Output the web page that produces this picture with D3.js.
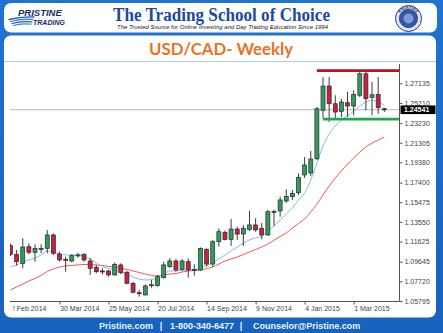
<!DOCTYPE html>
<html>
<head>
<meta charset="utf-8">
<script src="https://cdn.jsdelivr.net/npm/d3@7"></script>
<style>
  html, body { margin: 0; padding: 0; background: #1a6cc6; }
  svg { display: block; }
</style>
</head>
<body>
<svg id="chart" width="443" height="333"></svg>
<script>
// ---- Weekly USD/CAD bars, first week starting 2 Feb 2014 ----
const weekStart = "2014-02-02";

const opens = [
  1.1122, 1.1037, 1.0949, 1.1112, 1.1057, 1.1086, 1.1096, 1.1227, 1.1040, 1.0988,
  1.0972, 1.1024, 1.1037, 1.0972, 1.0910, 1.0874, 1.0874, 1.0835, 1.0933, 1.0861,
  1.0753, 1.0661, 1.0639, 1.0730, 1.0730, 1.0808, 1.0916, 1.0972, 1.0890, 1.0965,
  1.0881, 1.0884, 1.1086, 1.0942, 1.1161, 1.1253, 1.1184, 1.1285, 1.1236, 1.1282,
  1.1325, 1.1292, 1.1227, 1.1449, 1.1462, 1.1560, 1.1602, 1.1641, 1.1815, 1.1834,
  1.1974, 1.2449, 1.2687, 1.2513, 1.2439, 1.2523, 1.2491, 1.2596, 1.2807, 1.2576,
  1.2605, 1.2464
];
const highs = [
  1.1138, 1.1080, 1.1194, 1.1145, 1.1135, 1.1135, 1.1276, 1.1243, 1.1063, 1.1014,
  1.1037, 1.1050, 1.1047, 1.0998, 1.0933, 1.0900, 1.0884, 1.0955, 1.0949, 1.0874,
  1.0769, 1.0688, 1.0743, 1.0786, 1.0835, 1.0965, 1.0998, 1.0991, 1.0991, 1.0998,
  1.0939, 1.1104, 1.1096, 1.1178, 1.1292, 1.1269, 1.1383, 1.1308, 1.1325, 1.1465,
  1.1390, 1.1344, 1.1471, 1.1476, 1.1602, 1.1674, 1.1668, 1.1831, 1.1991, 1.2050,
  1.2481, 1.2775, 1.2775, 1.2596, 1.2562, 1.2628, 1.2645, 1.2824, 1.2824, 1.2726,
  1.2775, 1.2474
];
const lows = [
  1.1021, 1.0926, 1.0900, 1.1037, 1.0965, 1.1047, 1.1047, 1.1031, 1.0965, 1.0867,
  1.0959, 1.1004, 1.0965, 1.0835, 1.0851, 1.0841, 1.0818, 1.0828, 1.0841, 1.0743,
  1.0655, 1.0622, 1.0632, 1.0710, 1.0720, 1.0802, 1.0906, 1.0867, 1.0874, 1.0808,
  1.0828, 1.0874, 1.0916, 1.0913, 1.1112, 1.1173, 1.1119, 1.1178, 1.1119, 1.1266,
  1.1259, 1.1184, 1.1217, 1.1315, 1.1406, 1.1540, 1.1570, 1.1619, 1.1785, 1.1805,
  1.1962, 1.2366, 1.2334, 1.2366, 1.2383, 1.2383, 1.2400, 1.2579, 1.2449, 1.2400,
  1.2415, 1.2432
];
const closes = [
  1.1037, 1.0965, 1.1109, 1.1057, 1.1096, 1.1094, 1.1227, 1.1047, 1.0982, 1.0982,
  1.1024, 1.1031, 1.0982, 1.0900, 1.0867, 1.0864, 1.0835, 1.0939, 1.0857, 1.0753,
  1.0665, 1.0651, 1.0727, 1.0739, 1.0818, 1.0933, 1.0972, 1.0884, 1.0972, 1.0884,
  1.0890, 1.1096, 1.0942, 1.1161, 1.1259, 1.1182, 1.1285, 1.1236, 1.1292, 1.1325,
  1.1276, 1.1227, 1.1455, 1.1457, 1.1570, 1.1604, 1.1635, 1.1792, 1.1913, 1.1971,
  1.2464, 1.2687, 1.2513, 1.2432, 1.2530, 1.2491, 1.2605, 1.2807, 1.2562, 1.2601,
  1.2474, 1.24541
];

// Moving averages (fast = light blue, slow = light red)
const maFast = [
  1.0913, 1.0933, 1.0962, 1.0982, 1.1001, 1.1031, 1.1070, 1.1060, 1.1040, 1.1031,
  1.1031, 1.1031, 1.1016, 1.0991, 1.0952, 1.0918, 1.0898, 1.0884, 1.0864, 1.0844,
  1.0815, 1.0795, 1.0786, 1.0790, 1.0805, 1.0844, 1.0874, 1.0874, 1.0884, 1.0884,
  1.0884, 1.0908, 1.0928, 1.0952, 1.0991, 1.1031, 1.1070, 1.1109, 1.1148, 1.1178,
  1.1197, 1.1217, 1.1266, 1.1315, 1.1374, 1.1432, 1.1491, 1.1570, 1.1638, 1.1766,
  1.1932, 1.2099, 1.2216, 1.2295, 1.2354, 1.2393, 1.2442, 1.2491, 1.2530, 1.2545,
  1.2530, 1.2501
];
const maSlow = [
  1.0688, 1.0717, 1.0746, 1.0776, 1.0800, 1.0830, 1.0869, 1.0893, 1.0913, 1.0923,
  1.0928, 1.0933, 1.0937, 1.0937, 1.0933, 1.0928, 1.0918, 1.0913, 1.0903, 1.0888,
  1.0874, 1.0859, 1.0844, 1.0830, 1.0825, 1.0835, 1.0844, 1.0849, 1.0864, 1.0874,
  1.0879, 1.0884, 1.0898, 1.0913, 1.0942, 1.0972, 1.0991, 1.1011, 1.1035, 1.1060,
  1.1084, 1.1109, 1.1138, 1.1173, 1.1212, 1.1246, 1.1295, 1.1339, 1.1383, 1.1452,
  1.1530, 1.1619, 1.1707, 1.1785, 1.1854, 1.1922, 1.1981, 1.2040, 1.2089, 1.2128,
  1.2158, 1.2187
];

// Horizontal levels: resistance (red) and support (green)
const levelValues = [1.2837, 1.2363];
const levelStarts = ["2015-01-18", "2015-01-25"];
const levelColors = ["#b3171d", "#1fa84a"];

const lastPrice = 1.24541;

const priceTicks = [1.27135, 1.25210, 1.23230, 1.21305, 1.19380, 1.17400,
                    1.15475, 1.13550, 1.11625, 1.09645, 1.07720, 1.05795];
const tickDates = ["2014-02-02", "2014-03-30", "2014-05-25", "2014-07-20",
                   "2014-09-14", "2014-11-09", "2015-01-04", "2015-03-01"];
const tickLabels = ["2 Feb 2014", "30 Mar 2014", "25 May 2014", "20 Jul 2014",
                    "14 Sep 2014", "9 Nov 2014", "4 Jan 2015", "1 Mar 2015"];

// ---------------------------------------------------------------
const W = 443, H = 333;
const svg = d3.select("#chart");
const defs = svg.append("defs");

const bg = defs.append("linearGradient").attr("id", "bg")
  .attr("x1", 0).attr("y1", 0).attr("x2", 0).attr("y2", 1);
bg.append("stop").attr("offset", "0%").attr("stop-color", "#1f73d1");
bg.append("stop").attr("offset", "100%").attr("stop-color", "#1762bd");
svg.append("rect").attr("width", W).attr("height", H).attr("fill", "url(#bg)");

// header card and main card
svg.append("rect").attr("x", 4).attr("y", 3).attr("width", 433).attr("height", 29.5)
  .attr("rx", 7).attr("fill", "#ffffff");
svg.append("rect").attr("x", 4).attr("y", 35.5).attr("width", 432).attr("height", 282)
  .attr("rx", 7).attr("fill", "#ffffff");
svg.append("line").attr("x1", 4).attr("x2", 436).attr("y1", 61.5).attr("y2", 61.5)
  .attr("stroke", "#a8cdee").attr("stroke-width", 1);

// ---- header ----
svg.append("text").attr("x", 113).attr("y", 20.5)
  .attr("textLength", 217).attr("lengthAdjust", "spacingAndGlyphs")
  .attr("font-family", "Liberation Serif, serif").attr("font-weight", "bold")
  .attr("font-size", 18).attr("fill", "#1c4a9c")
  .text("The Trading School of Choice");
svg.append("text").attr("x", 117).attr("y", 29.3)
  .attr("textLength", 211).attr("lengthAdjust", "spacingAndGlyphs")
  .attr("font-family", "Liberation Sans, Arial, sans-serif").attr("font-style", "italic")
  .attr("font-size", 5.8).attr("fill", "#222")
  .text("The Trusted Source for Online Investing and Day Trading Education Since 1994");

// left logo
const logo = svg.append("g");
[0, 1, 2, 3].forEach(k => {
  logo.append("path")
    .attr("d", `M${9 + k * 1.5},${19.5 + k * 2} Q${20},${16.5 + k * 2.2} ${34 - k},${17 + k * 2.4}`)
    .attr("fill", "none").attr("stroke", k % 2 ? "#3f86d6" : "#1d5fb5")
    .attr("stroke-width", 1.3).attr("stroke-linecap", "round");
});
logo.append("text").attr("x", 18).attr("y", 16.2)
  .attr("font-family", "Liberation Sans, Arial, sans-serif").attr("font-weight", "bold")
  .attr("font-style", "italic").attr("font-size", 9.5).attr("fill", "#1b2a66").text("PRISTINE");
logo.append("text").attr("x", 33).attr("y", 24.8)
  .attr("font-family", "Liberation Sans, Arial, sans-serif").attr("font-weight", "bold")
  .attr("font-style", "italic").attr("font-size", 7).attr("fill", "#1b2a66").text("TRADING");

// right badge
const badge = svg.append("g").attr("transform", "translate(408.5,18.5)");
badge.append("circle").attr("r", 13).attr("fill", "#dfe6f4").attr("stroke", "#26387a").attr("stroke-width", 1);
badge.append("circle").attr("r", 9.2).attr("fill", "#3657a6").attr("stroke", "#1d2d66").attr("stroke-width", 0.6);
badge.append("circle").attr("r", 5).attr("fill", "#7d9bd6");
defs.append("path").attr("id", "badgeArc").attr("d", "M-10.5,1 A10.5,10.5 0 0 1 10.5,1");
badge.append("text").attr("font-family", "Liberation Sans, Arial, sans-serif")
  .attr("font-weight", "bold").attr("font-size", 4.2).attr("fill", "#1b2a66")
  .append("textPath").attr("href", "#badgeArc").attr("startOffset", "50%")
  .attr("text-anchor", "middle").text("PRISTINE");

// ---- chart title ----
svg.append("text").attr("x", 149).attr("y", 55)
  .attr("textLength", 144).attr("lengthAdjust", "spacingAndGlyphs")
  .attr("font-family", "Lato, Open Sans, sans-serif").attr("font-weight", "bold")
  .attr("font-size", 17).attr("fill", "#e8731f")
  .text("USD/CAD- Weekly");

// ---- price chart ----
const parse = s => new Date(s + "T00:00:00Z");
const dates = opens.map((_, i) => d3.utcDay.offset(parse(weekStart), 7 * i));
const bars = dates.map((d, i) => ({ date: d, o: opens[i], h: highs[i], l: lows[i], c: closes[i] }));

const plotLeft = 10, plotRight = 399.5, plotTop = 64, plotBottom = 301.5;

const x = d3.scaleUtc()
  .domain([dates[0], dates[dates.length - 1]])
  .range([10.5, 384.3]);
const y = d3.scaleLinear()
  .domain([1.05795, 1.27135])
  .range([301, 83.3]);

defs.append("clipPath").attr("id", "plotClip").append("rect")
  .attr("x", plotLeft).attr("y", plotTop).attr("width", plotRight - plotLeft).attr("height", plotBottom - plotTop);

const plot = svg.append("g").attr("clip-path", "url(#plotClip)");

// last price line
plot.append("line")
  .attr("x1", plotLeft).attr("x2", plotRight)
  .attr("y1", y(lastPrice)).attr("y2", y(lastPrice))
  .attr("stroke", "#a4a4a4").attr("stroke-width", 0.8);

// moving averages
const maLine = d3.line()
  .x((d, i) => x(dates[i]))
  .y(d => y(d))
  .curve(d3.curveMonotoneX);
plot.append("path").datum(maSlow).attr("d", maLine)
  .attr("fill", "none").attr("stroke", "#ef5858").attr("stroke-width", 1);
plot.append("path").datum(maFast).attr("d", maLine)
  .attr("fill", "none").attr("stroke", "#82bbe8").attr("stroke-width", 1);

// candles
const bodyW = 4;
const candles = plot.append("g").selectAll("g").data(bars).join("g");
candles.append("line")
  .attr("x1", d => x(d.date)).attr("x2", d => x(d.date))
  .attr("y1", d => y(d.h)).attr("y2", d => y(d.l))
  .attr("stroke", "#3a3a3a").attr("stroke-width", 1);
candles.append("rect")
  .attr("x", d => x(d.date) - bodyW / 2)
  .attr("width", bodyW)
  .attr("y", d => y(Math.max(d.o, d.c)))
  .attr("height", d => Math.max(1, Math.abs(y(d.o) - y(d.c))))
  .attr("fill", d => d.c >= d.o ? "#2f9c5c" : "#c9203f")
  .attr("stroke", "#2b2b2b").attr("stroke-width", 0.7);

// support / resistance levels
levelValues.forEach((v, i) => {
  plot.append("line")
    .attr("x1", x(parse(levelStarts[i]))).attr("x2", plotRight)
    .attr("y1", y(v)).attr("y2", y(v))
    .attr("stroke", levelColors[i]).attr("stroke-width", 2.8);
});

// axis frame lines
svg.append("line").attr("x1", plotRight).attr("x2", plotRight)
  .attr("y1", plotTop).attr("y2", plotBottom)
  .attr("stroke", "#555").attr("stroke-width", 1);
svg.append("line").attr("x1", plotLeft).attr("x2", plotRight)
  .attr("y1", plotBottom).attr("y2", plotBottom)
  .attr("stroke", "#555").attr("stroke-width", 1);

// right price axis
const yAxis = svg.append("g")
  .attr("transform", `translate(${plotRight},0)`)
  .call(d3.axisRight(y).tickValues(priceTicks).tickSize(3).tickPadding(2)
    .tickFormat(d3.format(".5f")));
yAxis.select(".domain").remove();
yAxis.selectAll(".tick line").attr("stroke", "#555");
yAxis.selectAll(".tick text")
  .attr("font-family", "Liberation Sans, Arial, sans-serif")
  .attr("font-size", 7).attr("fill", "#444");

// last price tag
svg.append("rect").attr("x", plotRight + 1).attr("y", y(lastPrice) - 4.3)
  .attr("width", 35).attr("height", 8.6).attr("fill", "#000");
svg.append("text").attr("x", plotRight + 4.5).attr("y", y(lastPrice) + 2.5)
  .attr("font-family", "Liberation Sans, Arial, sans-serif").attr("font-weight", "bold")
  .attr("font-size", 7).attr("fill", "#fff").text(d3.format(".5f")(lastPrice));

// bottom date axis (labels are clipped at the left edge of the plot)
defs.append("clipPath").attr("id", "xClip").append("rect")
  .attr("x", 13.2).attr("y", plotBottom - 1).attr("width", 400).attr("height", 16);
const xAxis = svg.append("g")
  .attr("clip-path", "url(#xClip)")
  .append("g")
  .attr("transform", `translate(0,${plotBottom})`)
  .call(d3.axisBottom(x).tickValues(tickDates.map(parse)).tickSize(3)
    .tickFormat((d, i) => tickLabels[i]));
xAxis.select(".domain").remove();
xAxis.selectAll(".tick line").attr("stroke", "#555");
xAxis.selectAll(".tick text")
  .attr("text-anchor", "start")
  .attr("x", 0)
  .attr("y", 5)
  .attr("font-family", "Liberation Sans, Arial, sans-serif")
  .attr("font-size", 7).attr("fill", "#444");

// ---- footer ----
const foot = svg.append("g")
  .attr("font-family", "Liberation Sans, Arial, sans-serif").attr("font-weight", "bold")
  .attr("font-size", 9).attr("fill", "#eaf2ff");
foot.append("text").attr("x", 99).attr("y", 329).text("Pristine.com");
foot.append("text").attr("x", 161).attr("y", 329).attr("text-anchor", "middle").text("|");
foot.append("text").attr("x", 170).attr("y", 329).text("1-800-340-6477");
foot.append("text").attr("x", 241).attr("y", 329).attr("text-anchor", "middle").text("|");
foot.append("text").attr("x", 253).attr("y", 329).text("Counselor@Pristine.com");
</script>
</body>
</html>
